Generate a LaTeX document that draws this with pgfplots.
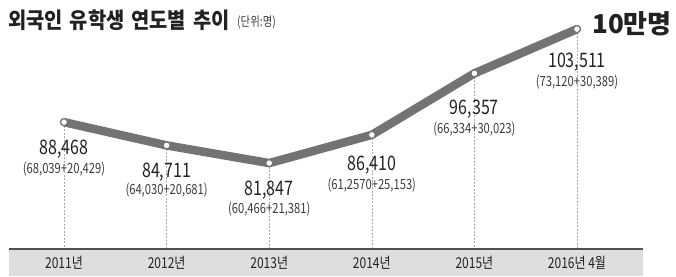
\documentclass[border=0pt]{standalone}
\usepackage{fontspec}
\setmainfont{Noto Sans CJK KR}
\newfontfamily\cond[FakeStretch=0.8]{Noto Sans CJK KR}
\newfontfamily\titlefont[FakeStretch=0.9]{Noto Sans CJK KR}
\usepackage{pgfplots}
\usepackage{pgfplotstable}
\pgfplotsset{compat=1.18}
\definecolor{linegray}{HTML}{737373}
\definecolor{bandgray}{HTML}{DEDEDE}
\definecolor{bordergray}{HTML}{505050}
\definecolor{dashgray}{HTML}{A8A8A8}
\definecolor{txt}{HTML}{222222}
\definecolor{subtxt}{HTML}{3A3A3A}

\pgfplotstableread{
x v
0 88468
1 84711
2 81847
3 86410
4 96357
5 103511
}\data

\begin{document}
\begin{tikzpicture}
\begin{axis}[
  scale only axis, width=676pt, height=276pt,
  xmin=-0.624, xmax=5.965, ymin=63577, ymax=108201,
  axis line style={draw=none}, major tick length=0pt,
  axis on top=true,
  ytick=\empty, xtick={0,...,5},
  xticklabels={2011년,2012년,2013년,2014년,2015년,2016년 4월},
  xticklabel style={anchor=center, yshift=13pt, inner sep=0pt, font=\cond\fontsize{15}{15}\selectfont, text=txt},
  clip=false,
]
\addplot[draw=none, mark=none, forget plot, error bars/.cd, y dir=minus, y explicit, error mark=none,
  error bar style={draw=dashgray, line width=0.6pt, dash pattern=on 2pt off 1.5pt}]
  table[x=x, y=v, y error expr=\thisrow{v}-67942] {\data};
\fill[bandgray] (rel axis cs:0.0133,0) rectangle (rel axis cs:0.951,0.0978);
\draw[line width=2pt, bordergray] (rel axis cs:0.0133,0.0978) -- (rel axis cs:0.951,0.0978);
\addplot[linegray, line width=8.5pt, line cap=round, line join=round, mark=*, mark size=3.3pt,
  mark options={fill=white, draw=linegray, line width=0.8pt}] table[x=x, y=v] {\data};

\begin{scope}[every node/.style={anchor=center, inner sep=0pt}]
\node[font=\cond\fontsize{20}{20}\selectfont, text=txt, yshift=-27pt] at (axis cs:0,88468) {88,468};
\node[font=\cond\fontsize{14}{14}\selectfont, text=subtxt, yshift=-47pt] at (axis cs:0,88468) {(68,039+20,429)};
\node[font=\cond\fontsize{20}{20}\selectfont, text=txt, yshift=-26.7pt] at (axis cs:1,84711) {84,711};
\node[font=\cond\fontsize{14}{14}\selectfont, text=subtxt, yshift=-45pt] at (axis cs:1,84711) {(64,030+20,681)};
\node[font=\cond\fontsize{20}{20}\selectfont, text=txt, yshift=-27pt] at (axis cs:2,81847) {81,847};
\node[font=\cond\fontsize{14}{14}\selectfont, text=subtxt, yshift=-46pt] at (axis cs:2,81847) {(60,466+21,381)};
\node[font=\cond\fontsize{20}{20}\selectfont, text=txt, yshift=-30pt] at (axis cs:3,86410) {86,410};
\node[font=\cond\fontsize{14}{14}\selectfont, text=subtxt, yshift=-50pt] at (axis cs:3,86410) {(61,2570+25,153)};
\node[font=\cond\fontsize{20}{20}\selectfont, text=txt, yshift=-35.7pt] at (axis cs:4,96357) {96,357};
\node[font=\cond\fontsize{14}{14}\selectfont, text=subtxt, yshift=-55.7pt] at (axis cs:4,96357) {(66,334+30,023)};
\node[font=\cond\fontsize{20}{20}\selectfont, text=txt, yshift=-33pt] at (axis cs:5,103511) {103,511};
\node[font=\cond\fontsize{14}{14}\selectfont, text=subtxt, yshift=-53pt] at (axis cs:5,103511) {(73,120+30,389)};
\end{scope}

\node[anchor=west, inner sep=0pt, text=txt, font=\titlefont\bfseries\fontsize{22}{22}\selectfont] at (rel axis cs:0.0118,0.9275) {외국인\hspace{7pt}유학생\hspace{7pt}연도별\hspace{7pt}추이};
\node[anchor=west, inner sep=0pt, text=subtxt, font=\cond\fontsize{13}{13}\selectfont] at (rel axis cs:0.3506,0.918) {(단위:명)};
\node[anchor=east, inner sep=0pt, text=txt, font=\bfseries\fontsize{26}{26}\selectfont] at (rel axis cs:0.994,0.913) {10만명};
\end{axis}
\end{tikzpicture}
\end{document}
